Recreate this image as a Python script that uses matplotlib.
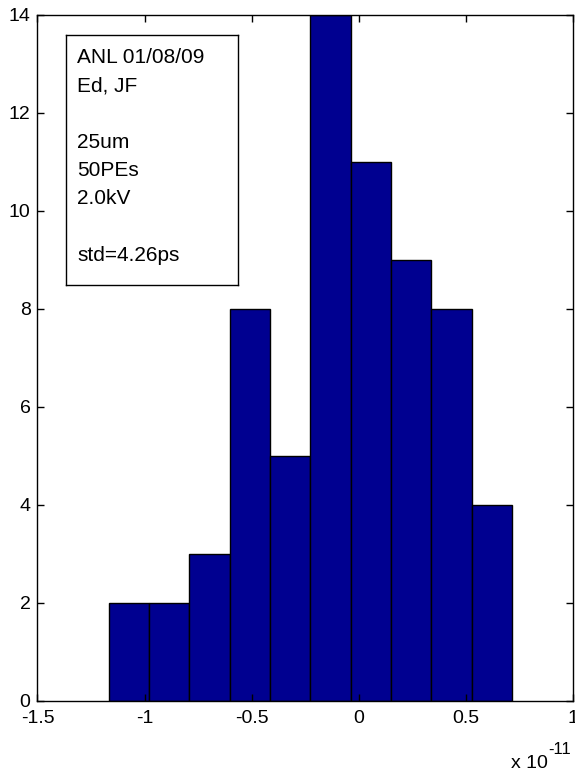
import numpy as np
import matplotlib
matplotlib.use("Agg")
import matplotlib.pyplot as plt

# Timing residuals histogram (seconds, shown as x 10^-11)
bin_left = -1.167e-11
bin_width = 0.1883e-11
counts = [2, 2, 3, 8, 5, 14, 11, 9, 8, 4]
x_ticks = [-1.5, -1, -0.5, 0, 0.5, 1]
x_tick_labels = ["-1.5", "-1", "-0.5", "0", "0.5", "1"]
y_ticks = [0, 2, 4, 6, 8, 10, 12, 14]
info_lines = ["ANL 01/08/09", "Ed, JF", "", "25um", "50PEs", "2.0kV", "", "std=4.26ps"]

plt.rcParams["font.family"] = ["Liberation Sans", "DejaVu Sans"]

fig = plt.figure(figsize=(5.75, 7.72), dpi=100)
ax = fig.add_axes([0.0652, 0.0926, 0.996 - 0.0652, 0.981 - 0.0926])

edges = bin_left + bin_width * np.arange(len(counts) + 1)
ax.bar(edges[:-1] * 1e11, counts, width=bin_width * 1e11, align="edge",
       color="#000090", edgecolor="black", linewidth=1.0)

ax.set_xlim(-1.5, 1.0)
ax.set_ylim(0, 14)
ax.set_xticks(x_ticks)
ax.set_xticklabels(x_tick_labels)
ax.set_yticks(y_ticks)
ax.tick_params(direction="in", length=5, width=1, top=True, right=True,
               labelsize=14)
ax.tick_params(axis="x", pad=7)
ax.tick_params(axis="y", pad=5)
for s in ax.spines.values():
    s.set_linewidth(1.0)

# exponent label for the x axis
fig.text(511 / 575, 1 - 768 / 772, "x 10", fontsize=14, ha="left", va="baseline")
fig.text(548 / 575, 1 - 754 / 772, "-11", fontsize=12, ha="left", va="baseline")

# annotation box
box_ax = fig.add_axes([66 / 575, 1 - 285 / 772, (238 - 66) / 575, (285 - 35) / 772])
box_ax.set_xticks([])
box_ax.set_yticks([])
for s in box_ax.spines.values():
    s.set_linewidth(1.0)
box_ax.text(0.064, 0.948, "\n".join(info_lines), transform=box_ax.transAxes,
            fontsize=15, ha="left", va="top", linespacing=1.62)

fig.savefig("out.png", dpi=100)
